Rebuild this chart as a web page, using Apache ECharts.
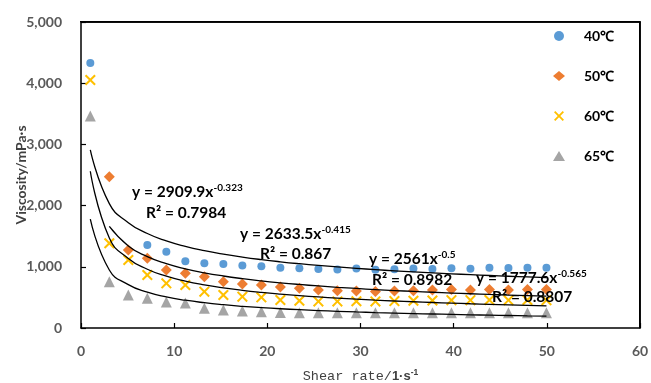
<!DOCTYPE html>
<html>
<head>
<meta charset="utf-8">
<script src="https://cdn.jsdelivr.net/npm/echarts@6/dist/echarts.min.js"></script>
<style>
html,body{margin:0;padding:0;background:#fff;}
#wrap{position:relative;width:651px;height:383px;}
#c{width:651px;height:383px;}
#frame{position:absolute;left:80px;top:21px;width:559px;height:306px;border-top:1.5px solid #000;border-right:1.5px solid #000;pointer-events:none;}
</style>
</head>
<body>
<div id="wrap"><div id="c"></div><div id="frame"></div></div>
<script>
// Shear rate (1/s)
const shearRate = [1, 3.04, 5.08, 7.12, 9.16, 11.2, 13.24, 15.28, 17.32, 19.36, 21.4, 23.44, 25.48, 27.52, 29.56, 31.6, 33.64, 35.68, 37.72, 39.76, 41.8, 43.84, 45.88, 47.92, 49.96];
const seriesNames = ['40℃', '50℃', '60℃', '65℃'];
// Viscosity (mPa·s)
const visc40 = [4330, null, null, 1356, 1245, 1092, 1060, 1044, 1022, 1008, 985, 977, 965, 955, 972, 950, 962, 972, 965, 975, 970, 985, 980, 985, 985];
const visc50 = [null, 2472, 1275, 1139, 948, 894, 839, 757, 719, 703, 670, 648, 621, 607, 605, 596, 605, 608, 621, 628, 621, 630, 622, 630, 630];
const visc60 = [4052, 1384, 1111, 866, 730, 703, 594, 539, 512, 501, 457, 445, 435, 435, 437, 435, 440, 445, 450, 455, 455, 458, 455, 458, 455];
const visc65 = [3464, 757, 539, 485, 425, 410, 322, 294, 278, 265, 252, 250, 248, 248, 250, 248, 248, 248, 248, 248, 248, 248, 248, 248, 248];
// Power-law trendlines y = a * x^b shown on the chart
const fitA = [2909.9, 2633.5, 2561, 1777.6];
const fitB = [-0.323, -0.415, -0.5, -0.565];
const fitAText = ['2909.9', '2633.5', '2561', '1777.6'];
const fitBText = ['-0.323', '-0.415', '-0.5', '-0.565'];
const fitR2Text = ['0.7984', '0.867', '0.8982', '0.8807'];
const fitStart = [0, 1, 0, 0];
// Axis ticks
const xTicks = [0, 10, 20, 30, 40, 50, 60];
const yTicks = [0, 1000, 2000, 3000, 4000, 5000];

const colors = ['#5B9BD5', '#ED7D31', '#FFC000', '#A5A5A5'];
const values = [visc40, visc50, visc60, visc65];
const xPath = 'path://M0,1.3 L1.3,0 L5,3.7 L8.7,0 L10,1.3 L6.3,5 L10,8.7 L8.7,10 L5,6.3 L1.3,10 L0,8.7 L3.7,5 Z';
const symbols = ['circle', 'diamond', xPath, 'triangle'];
const sizes = [8, 11, 11, 11];
const FONT = 'Lato, "Open Sans", sans-serif';

const series = [];
values.forEach((v, k) => {
  series.push({
    name: seriesNames[k], type: 'scatter', symbol: symbols[k], symbolSize: sizes[k],
    itemStyle: {color: colors[k], opacity: 1},
    data: shearRate.map((x, i) => v[i] == null ? null : [x, v[i]]).filter(d => d),
    z: 3
  });
});
fitA.forEach((a, k) => {
  series.push({
    name: 'fit' + k, type: 'line', smooth: 0.5, showSymbol: false, silent: true,
    lineStyle: {color: '#000', width: 1.3},
    data: shearRate.slice(fitStart[k]).map(x => [x, a * Math.pow(x, fitB[k])]),
    z: 4
  });
});

// layout
const G = {left: 81, right: 11, top: 22, bottom: 55, W: 651, H: 383};
const fx0 = G.left, fx1 = G.W - G.right, fy0 = G.top, fy1 = G.H - G.bottom;

// equation label positions (pixels)
const eqPos = [[132, 192, 146, 213], [240, 234, 260, 254], [369, 259, 372, 280], [476, 278, 492, 297]];
const graphics = [{
  type: 'polyline', z: 100, silent: true,
  shape: {points: [[fx0, fy0], [fx1, fy0], [fx1, fy1]]},
  style: {stroke: '#000', lineWidth: 1.5, fill: null}
}];
eqPos.forEach((p, k) => {
  graphics.push({
    type: 'text', x: p[0], y: p[1], z: 10,
    style: {
      text: '{m|y = ' + fitAText[k] + 'x}{s|' + fitBText[k] + '}',
      verticalAlign: 'middle',
      rich: {
        m: {fontSize: 15.5, fontWeight: 'bold', fontFamily: FONT, fill: '#000', lineHeight: 18},
        s: {fontSize: 10, fontWeight: 'bold', fontFamily: FONT, fill: '#000', lineHeight: 10, verticalAlign: 'top'}
      }
    }
  });
  graphics.push({
    type: 'text', x: p[2], y: p[3], z: 10,
    style: {
      text: 'R² = ' + fitR2Text[k], verticalAlign: 'middle',
      font: 'bold 15.5px ' + FONT, fill: '#000'
    }
  });
});

const axisCommon = {
  type: 'value',
  axisLine: {show: true, onZero: false, lineStyle: {color: '#000', width: 1.5}},
  splitLine: {show: false}
};

const chart = echarts.init(document.getElementById('c'));
chart.setOption({
  animation: false,
  color: colors,
  grid: {left: G.left, right: G.right, top: G.top, bottom: G.bottom, outerBoundsMode: 'none', containLabel: false},
  legend: {
    data: seriesNames, orient: 'vertical', left: 548, top: 24,
    itemWidth: 12, itemHeight: 10, itemGap: 26,
    textStyle: {fontSize: 14, fontWeight: 'bold', color: '#000', fontFamily: FONT, lineHeight: 14, padding: [0, 0, 0, 14]}
  },
  xAxis: [Object.assign({}, axisCommon, {
    min: xTicks[0], max: xTicks[xTicks.length - 1], interval: 10, position: 'bottom',
    axisTick: {show: true, inside: true, length: 5, lineStyle: {color: '#000', width: 1.2}},
    axisLabel: {margin: 16, fontSize: 14, fontWeight: 'bold', color: '#595959', fontFamily: FONT},
    name: '{a|Shear rate/}{b|1·s}{c|-1}', nameLocation: 'middle', nameGap: 40, nameMoveOverlap: false,
    nameTextStyle: {
      rich: {
        a: {fontFamily: '"Liberation Mono", monospace', fontSize: 13.5, color: '#404040', lineHeight: 16},
        b: {fontFamily: '"Liberation Sans", sans-serif', fontSize: 13, fontWeight: 'bold', color: '#404040', lineHeight: 16},
        c: {fontFamily: '"Liberation Sans", sans-serif', fontSize: 8.5, fontWeight: 'bold', color: '#404040', lineHeight: 9, verticalAlign: 'top'}
      }
    }
  }), Object.assign({}, axisCommon, {
    min: xTicks[0], max: xTicks[xTicks.length - 1], interval: 10, position: 'top', show: true,
    axisTick: {show: false}, axisLabel: {show: false}
  })],
  yAxis: [Object.assign({}, axisCommon, {
    min: yTicks[0], max: yTicks[yTicks.length - 1], interval: 1000, position: 'left',
    axisTick: {show: true, inside: true, length: 5, lineStyle: {color: '#000', width: 1.2}},
    axisLabel: {margin: 19, fontSize: 14, fontWeight: 'bold', color: '#595959', fontFamily: FONT,
      formatter: v => v.toLocaleString('en-US')},
    name: 'Viscosity/mPa·s', nameLocation: 'middle', nameGap: 53, nameMoveOverlap: false,
    nameTextStyle: {fontSize: 14, fontWeight: 'bold', color: '#404040', fontFamily: FONT}
  }), Object.assign({}, axisCommon, {
    min: yTicks[0], max: yTicks[yTicks.length - 1], interval: 1000, position: 'right', show: true,
    axisTick: {show: false}, axisLabel: {show: false}
  })],
  graphic: graphics,
  series: series
});
</script>
</body>
</html>
